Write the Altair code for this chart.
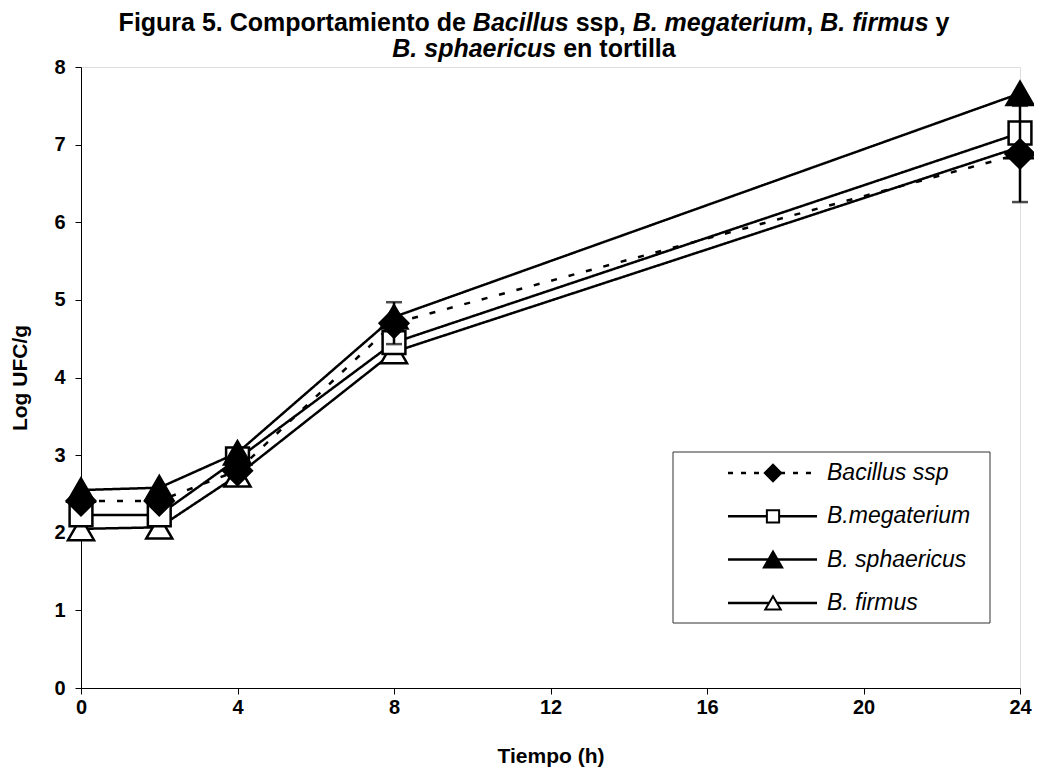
import altair as alt
import pandas as pd

# ---------------- data ----------------
time_h = [0, 2, 4, 8, 24]
series_names = ["Bacillus ssp", "B.megaterium", "B. sphaericus", "B. firmus"]
bacillus = [2.41, 2.41, 2.80, 4.70, 6.88]
megaterium = [2.23, 2.23, 2.95, 4.45, 7.15]
sphaericus = [2.55, 2.58, 3.03, 4.78, 7.66]
firmus = [2.05, 2.07, 2.74, 4.33, 6.97]

err_time = [8, 24]
err_center = [4.70, 6.88]
err_size = [0.27, 0.62]

x_ticks = [0, 4, 8, 12, 16, 20, 24]
y_ticks = [0, 1, 2, 3, 4, 5, 6, 7, 8]

title_line1 = [("Figura 5. Comportamiento de ", False), ("Bacillus", True), (" ssp, ", False),
               ("B. megaterium", True), (", ", False), ("B. firmus", True), (" y", False)]
title_line2 = [("B. sphaericus", True), (" en tortilla", False)]

# ---------------- tables ----------------
values = {"Bacillus ssp": bacillus, "B.megaterium": megaterium,
          "B. sphaericus": sphaericus, "B. firmus": firmus}
rows = []
for name in series_names:
    for t, v in zip(time_h, values[name]):
        rows.append({"time": t, "value": v, "series": name})
df = pd.DataFrame(rows)
df_err = pd.DataFrame({"time": err_time,
                       "lo": [c - e for c, e in zip(err_center, err_size)],
                       "hi": [c + e for c, e in zip(err_center, err_size)]})

FONT = "Liberation Sans"
W_PLOT, H_PLOT = 939, 621

xenc = alt.X("time:Q", scale=alt.Scale(domain=[0, 24], nice=False, zero=False),
             axis=alt.Axis(values=x_ticks, format="d", title="Tiempo (h)",
                           titleFont=FONT, titleFontSize=21, titleFontWeight="bold",
                           titleColor="black", titleY=68, titleBaseline="middle",
                           labelFont=FONT, labelFontSize=20, labelFontWeight="bold",
                           labelColor="black", labelPadding=3, tickSize=6,
                           tickColor="black", domainColor="black", grid=False,
                           labelFlush=False, labelOverlap=False))
yenc = alt.Y("value:Q", scale=alt.Scale(domain=[0, 8], nice=False),
             axis=alt.Axis(values=y_ticks, format="d", title="Log UFC/g",
                           titleFont=FONT, titleFontSize=21, titleFontWeight="bold",
                           titleColor="black", titleAngle=270, titleX=-61,
                           titleY=H_PLOT / 2, titleAlign="center", titleBaseline="middle",
                           labelFont=FONT, labelFontSize=20, labelFontWeight="bold",
                           labelColor="black", labelPadding=10, tickSize=6,
                           tickColor="black", domainColor="black", grid=False,
                           labelFlush=False, labelOverlap=False))

base = alt.Chart(df)

lines = base.mark_line(color="black", strokeWidth=2.5).encode(
    x=xenc, y=yenc, detail="series:N",
    strokeDash=alt.StrokeDash("series:N", legend=None,
                              scale=alt.Scale(domain=series_names,
                                              range=[[6, 12], [1, 0], [1, 0], [1, 0]])))

marker_style = {
    "Bacillus ssp": dict(shape="diamond", fill="black", size=820, leg_size=270, dash=[5, 8]),
    "B.megaterium": dict(shape="square", fill="white", size=520, leg_size=150, dash=[1, 0]),
    "B. sphaericus": dict(shape="triangle-up", fill="black", size=720, leg_size=340, dash=[1, 0]),
    "B. firmus": dict(shape="triangle-up", fill="white", size=680, leg_size=240, dash=[1, 0]),
}
point_layers = []
for name in ["B. firmus", "B.megaterium", "B. sphaericus", "Bacillus ssp"]:
    st = marker_style[name]
    point_layers.append(
        base.transform_filter(alt.datum.series == name)
        .mark_point(shape=st["shape"], filled=True, fill=st["fill"], stroke="black",
                    strokeWidth=2.5, size=st["size"], opacity=1)
        .encode(x=xenc, y=yenc))

err_rule = alt.Chart(df_err).mark_rule(color="black", strokeWidth=2.5).encode(
    x=alt.X("time:Q"), y=alt.Y("lo:Q"), y2="hi:Q")
err_lo = alt.Chart(df_err).mark_tick(color="black", orient="horizontal", size=16,
                                     thickness=2.5).encode(x="time:Q", y="lo:Q")
err_hi = alt.Chart(df_err).mark_tick(color="black", orient="horizontal", size=16,
                                     thickness=2.5).encode(x="time:Q", y="hi:Q")

# ---------------- legend (box, sample line, marker, italic label) ----------------
LEG_BOX = dict(x=592, x2=909, y=385, y2=556)
LEG_ROW0, LEG_STEP = 406, 43.3
LEG_LINE_X, LEG_LINE_X2, LEG_MARK_X, LEG_TEXT_X = 647, 736, 692, 746

one = pd.DataFrame({"k": [0]})
legend_layers = [alt.Chart(one).mark_rect(fill="white", stroke="#333333", strokeWidth=1).encode(
    x=alt.value(LEG_BOX["x"]), x2=alt.value(LEG_BOX["x2"]),
    y=alt.value(LEG_BOX["y"]), y2=alt.value(LEG_BOX["y2"]))]
for i, name in enumerate(series_names):
    st = marker_style[name]
    yy = LEG_ROW0 + i * LEG_STEP
    d = pd.DataFrame({"label": [name]})
    legend_layers.append(alt.Chart(d).mark_rule(color="black", strokeWidth=2.5,
                                                strokeDash=st["dash"]).encode(
        x=alt.value(LEG_LINE_X), x2=alt.value(LEG_LINE_X2), y=alt.value(yy)))
    legend_layers.append(alt.Chart(d).mark_point(
        shape=st["shape"], filled=True, fill=st["fill"], stroke="black", strokeWidth=2,
        size=st["leg_size"], opacity=1).encode(x=alt.value(LEG_MARK_X), y=alt.value(yy)))
    legend_layers.append(alt.Chart(d).mark_text(
        align="left", baseline="middle", font=FONT, fontStyle="italic", fontSize=23,
        color="black").encode(x=alt.value(LEG_TEXT_X), y=alt.value(yy), text="label:N"))

# ---------------- title with mixed italic segments ----------------
ADV = {' ': 278, '.': 278, ',': 278, '5': 556, 'B': 722, 'C': 722, 'F': 611, 'a': 556,
       'c': 556, 'd': 611, 'e': 556, 'f': 333, 'g': 611, 'h': 611, 'i': 278, 'l': 278,
       'm': 889, 'n': 611, 'o': 611, 'p': 611, 'r': 389, 's': 556, 't': 333, 'u': 611,
       'y': 556}
TS = 25


def tw(s):
    return sum(ADV.get(c, 556) for c in s) * TS / 1000


def title_layers(segments, cx, ybase):
    total = sum(tw(s) for s, _ in segments)
    cur = cx - total / 2
    out = []
    for s, it in segments:
        lead = len(s) - len(s.lstrip(" "))
        txt = s.strip(" ")
        if txt:
            out.append(alt.Chart(pd.DataFrame({"t": [txt]})).mark_text(
                align="left", baseline="alphabetic", font=FONT, fontWeight="bold",
                fontStyle="italic" if it else "normal", fontSize=TS, color="black")
                .encode(x=alt.value(cur + tw(" " * lead)), y=alt.value(ybase), text="t:N"))
        cur += tw(s)
    return out


tl = title_layers(title_line1, 453, -36) + title_layers(title_line2, 453, -10)

chart = alt.layer(lines, *point_layers, err_rule, err_lo, err_hi,
                  *legend_layers, *tl).properties(
    width=W_PLOT, height=H_PLOT,
    padding={"left": 73, "top": 59, "right": 14, "bottom": 82},
    autosize=alt.AutoSizeParams(type="none"),
).configure_view(stroke=None).configure(background="white")

chart.save("out.html", embed_options={"renderer": "svg", "actions": False})
